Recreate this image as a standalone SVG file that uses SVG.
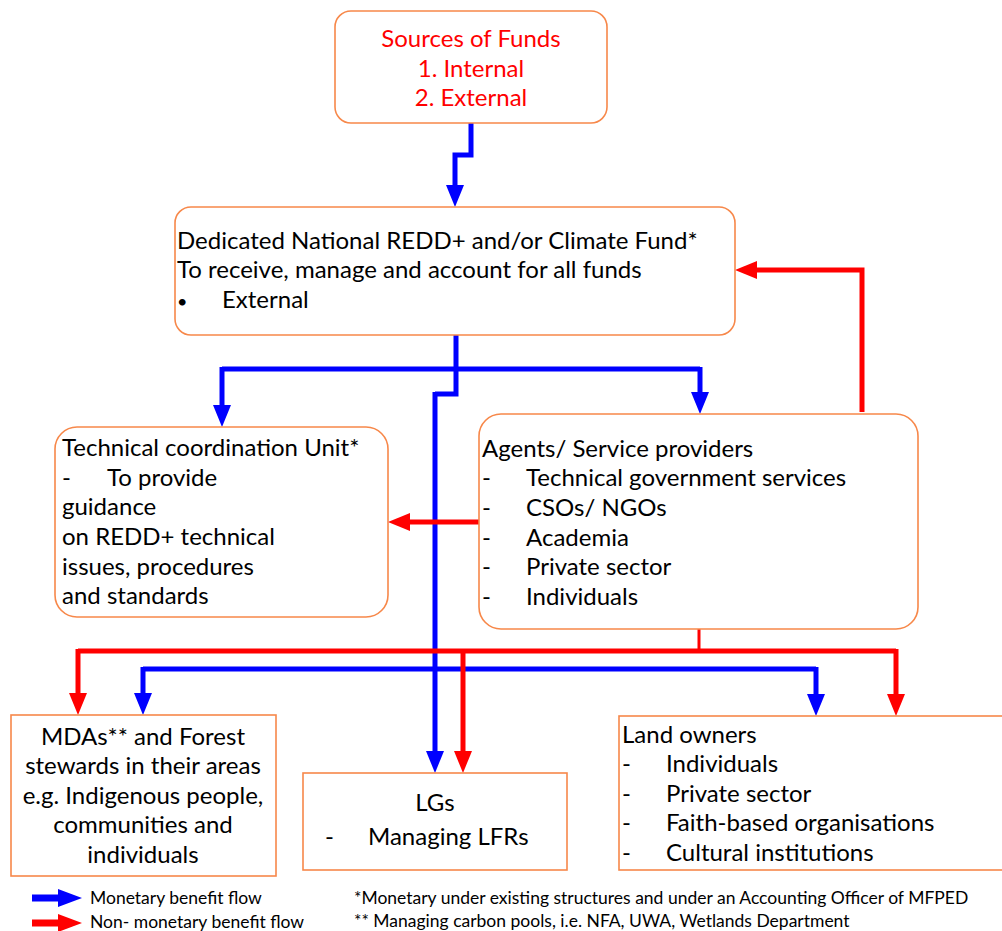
<svg xmlns="http://www.w3.org/2000/svg" width="1002" height="931" viewBox="0 0 1002 931">
<defs>
<style>
.box{fill:#fff;stroke:#F7884A;stroke-width:1.6}
.t{font-family:Lato,"Liberation Sans",sans-serif;font-size:24px;fill:#000}
.r{fill:#FF0000}
.c{text-anchor:middle}
.blue{fill:none;stroke:#0000FF;stroke-width:5;stroke-linejoin:miter}
.red{fill:none;stroke:#FF0000;stroke-width:5;stroke-linejoin:miter}
.lg{font-family:Lato,"Liberation Sans",sans-serif;font-size:17.5px;fill:#000}
</style>
<marker id="ab" markerUnits="userSpaceOnUse" markerWidth="24" markerHeight="20" refX="4" refY="9" orient="auto">
<path d="M0,0 L22,9 L0,18 z" fill="#0000FF"/>
</marker>
<marker id="ar" markerUnits="userSpaceOnUse" markerWidth="24" markerHeight="20" refX="4" refY="9" orient="auto">
<path d="M0,0 L22,9 L0,18 z" fill="#FF0000"/>
</marker>
</defs>

<g id="connectors">
<path class="blue" d="M471,123 V155 H455 V189" marker-end="url(#ab)"/>
<path class="blue" d="M222,369 H700"/>
<path class="blue" d="M222,367 V409" marker-end="url(#ab)"/>
<path class="blue" d="M700,367 V396" marker-end="url(#ab)"/>
<path class="blue" d="M456,335 V394 H435"/>
<path class="blue" d="M435,392 V755" marker-end="url(#ab)"/>
<path class="blue" d="M143,669 H816"/>
<path class="blue" d="M143,667 V697" marker-end="url(#ab)"/>
<path class="blue" d="M816,667 V698" marker-end="url(#ab)"/>
<path class="red" d="M479,522 H406" marker-end="url(#ar)"/>
<path class="red" d="M862,412 V270 H753" marker-end="url(#ar)"/>
<path class="red" style="stroke-width:3" d="M699,629 V651"/>
<path class="red" d="M78,651 H896"/>
<path class="red" d="M78,649 V697" marker-end="url(#ar)"/>
<path class="red" d="M896,649 V698" marker-end="url(#ar)"/>
<path class="red" d="M463,649 V755" marker-end="url(#ar)"/>
</g>

<g id="sources">
<rect class="box" x="335" y="11" width="272" height="112" rx="16"/>
<text class="t r c" x="471" y="47">Sources of Funds</text>
<text class="t r c" x="471" y="77">1. Internal</text>
<text class="t r c" x="471" y="106">2. External</text>
</g>

<g id="fund">
<rect class="box" x="175" y="207" width="560" height="128" rx="16"/>
<text class="t" x="177" y="249">Dedicated National REDD+ and/or Climate Fund*</text>
<text class="t" x="177" y="278">To receive, manage and account for all funds</text>
<text class="t" x="177" y="308" style="font-size:18px">•</text>
<text class="t" x="222" y="308">External</text>
</g>

<g id="tcu">
<rect class="box" x="55" y="427" width="333" height="190" rx="22"/>
<text class="t" x="62" y="456">Technical coordination Unit*</text>
<text class="t" x="62" y="486">-</text>
<text class="t" x="107" y="486">To provide</text>
<text class="t" x="62" y="515">guidance</text>
<text class="t" x="62" y="545">on REDD+ technical</text>
<text class="t" x="62" y="575">issues, procedures</text>
<text class="t" x="62" y="604">and standards</text>
</g>

<g id="agents">
<rect class="box" x="479" y="414" width="439" height="215" rx="22"/>
<text class="t" x="482" y="457">Agents/ Service providers</text>
<text class="t" x="482" y="486">-</text><text class="t" x="526" y="486">Technical government services</text>
<text class="t" x="482" y="516">-</text><text class="t" x="526" y="516">CSOs/ NGOs</text>
<text class="t" x="482" y="546">-</text><text class="t" x="526" y="546">Academia</text>
<text class="t" x="482" y="575">-</text><text class="t" x="526" y="575">Private sector</text>
<text class="t" x="482" y="605">-</text><text class="t" x="526" y="605">Individuals</text>
</g>

<g id="mdas">
<rect class="box" x="11" y="715" width="265" height="161"/>
<text class="t c" x="143" y="745">MDAs** and Forest</text>
<text class="t c" x="143" y="774">stewards in their areas</text>
<text class="t c" x="143" y="804">e.g. Indigenous people,</text>
<text class="t c" x="143" y="833">communities and</text>
<text class="t c" x="143" y="863">individuals</text>
</g>

<g id="lgs">
<rect class="box" x="303" y="773" width="264" height="97"/>
<text class="t c" x="435" y="811">LGs</text>
<text class="t" x="325" y="845">-</text>
<text class="t" x="368" y="845">Managing LFRs</text>
</g>

<g id="landowners">
<rect class="box" x="619" y="716" width="390" height="154"/>
<text class="t" x="622" y="743">Land owners</text>
<text class="t" x="622" y="772">-</text><text class="t" x="666" y="772">Individuals</text>
<text class="t" x="622" y="802">-</text><text class="t" x="666" y="802">Private sector</text>
<text class="t" x="622" y="831">-</text><text class="t" x="666" y="831">Faith-based organisations</text>
<text class="t" x="622" y="861">-</text><text class="t" x="666" y="861">Cultural institutions</text>
</g>

<g id="legend">
<path d="M32,894.5 H58 V889 L82,898 L58,907 V901.5 H32 z" fill="#0000FF"/>
<text class="lg" x="90" y="904">Monetary benefit flow</text>
<path d="M32,919.5 H58 V914 L82,923 L58,932 V926.5 H32 z" fill="#FF0000"/>
<text class="lg" x="90" y="928">Non- monetary benefit flow</text>
<text class="lg" x="354" y="904">*Monetary under existing structures and under an Accounting Officer of MFPED</text>
<text class="lg" x="354" y="927">** Managing carbon pools, i.e. NFA, UWA, Wetlands Department</text>
</g>
</svg>
